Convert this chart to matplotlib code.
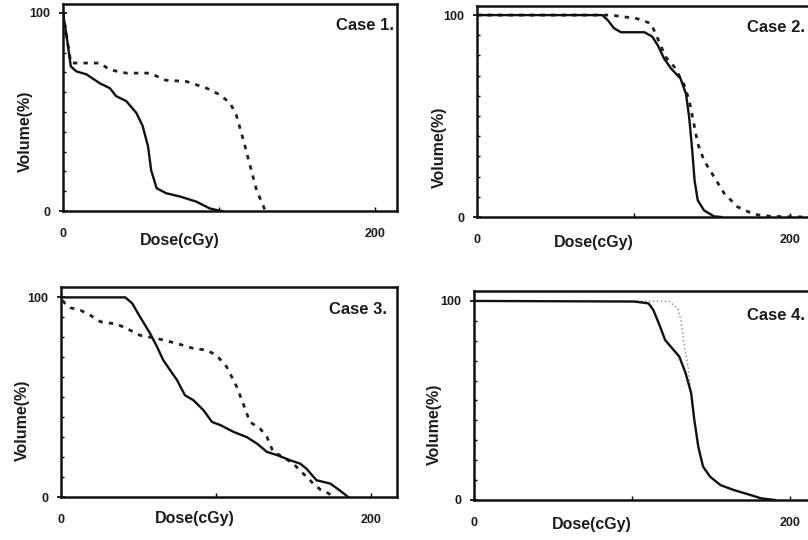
import matplotlib
matplotlib.use("Agg")
import matplotlib.pyplot as plt
from matplotlib.ticker import MultipleLocator

plt.rcParams['font.family'] = ['Liberation Sans', 'DejaVu Sans']

# ---------------- data (dose in cGy, volume in %) ----------------
case_titles = ["Case 1.", "Case 2.", "Case 3.", "Case 4."]

c1_solid_dose = [0, 2, 5, 8.5, 15, 23.5, 30, 34, 40.5, 47, 51, 54.5, 56.5, 60, 66, 75, 85.5, 94, 100, 102]
c1_solid_vol = [100, 90, 73, 70.5, 69, 64.5, 62, 58, 55.5, 49.5, 43, 32.5, 20.5, 11.5, 9, 7.3, 4.7, 1.3, 0.2, 0]
c1_dash_dose = [0, 2, 5, 23.5, 30, 40.5, 55.5, 66, 79, 92, 100.5, 107, 111, 115.5, 119.5, 124, 129, 130]
c1_dash_vol = [100, 90, 74.7, 74.7, 71.3, 69.6, 69.6, 66, 65.4, 62, 58.7, 54.5, 48.6, 36, 24, 10.6, 1.3, 0]

c2_solid_dose = [0, 80, 83.5, 87.5, 92, 107, 112, 115.5, 119.5, 124, 130, 133.5, 135.5, 137.5, 139, 141, 145, 151.5, 156]
c2_solid_vol = [100, 100, 97.5, 93.5, 91.5, 91.5, 89.3, 85, 78.5, 73.5, 68.6, 61, 49.6, 33, 18, 8.3, 3.3, 0.3, 0]
c2_dash_dose = [0, 85.5, 102, 111, 114, 120.5, 126, 132, 135.5, 138.5, 141, 145, 151.5, 158, 166.5, 177, 188, 209]
c2_dash_vol = [100, 100, 98.3, 95.9, 91, 79.3, 74.4, 66, 58, 46.3, 36.4, 28, 19.8, 11.6, 5, 1.3, 0.3, 0]

c3_solid_dose = [0, 41.5, 46, 51, 57.5, 62, 66, 70.5, 75, 80, 85.5, 92, 97.5, 103, 111.5, 120, 126.5, 133,
                 139.5, 148, 154.5, 158.5, 165, 174, 180, 185.5]
c3_solid_vol = [100, 100, 97, 90.3, 82, 75.3, 68.6, 63.5, 58.5, 51, 48.5, 43.5, 37.6, 36, 32.6, 30, 26.8, 22.6,
                21, 18.4, 16.7, 14.2, 8.4, 6.7, 3.3, 0]
c3_dash_dose = [1, 3, 6, 12.5, 19, 25.5, 36, 42.5, 51, 62, 75, 85.5, 94, 100.5, 107, 113.5, 118, 122, 128.5,
                133, 137, 143.5, 150, 156.5, 163, 167.5, 171.5, 176]
c3_dash_vol = [98.5, 96.5, 94.8, 93.6, 91, 87.8, 86.6, 84.4, 81, 79.4, 76.9, 74.4, 73.6, 71, 65.2, 55.2, 46,
               37.6, 34.3, 30.1, 22.6, 20, 16.7, 11.7, 6.7, 3.7, 2.5, 0]

c4_solid_dose = [0, 101.5, 110.5, 113.5, 117, 121, 125.5, 130, 134, 137.5, 139.5, 142, 145, 149.5, 156, 164.5,
                 173, 182, 190.5]
c4_solid_vol = [100, 99.7, 98.8, 95.5, 88.8, 80.4, 76.2, 72, 63.7, 53.6, 40.2, 26.8, 16.8, 11.7, 7.5, 5, 3, 0.8, 0]
c4_dot_dose = [0, 110.5, 123.5, 129, 131, 133, 135.5, 137.5, 139.5, 142, 145, 149.5, 156, 164.5, 173, 182, 190.5]
c4_dot_vol = [100, 100, 99.7, 96.3, 90.5, 78.7, 67, 53.6, 40.2, 26.8, 16.8, 11.7, 7.5, 5, 3, 0.8, 0]

x_tick_values = [0, 100, 200]
x_tick_labels = ["0", "", "200"]
y_tick_values = [0, 100]
y_tick_labels = ["0", "100"]

# ---------------- layout ----------------
W, H = 808, 540
fig = plt.figure(figsize=(W / 100, H / 100), dpi=100)
fig.patch.set_facecolor("white")

def px_axes(left, right, top, bottom):
    return fig.add_axes([left / W, 1 - bottom / H, (right - left) / W, (bottom - top) / H])

TXT = "#1c1c1c"

# (left, right, top, bottom), xmax, ymax
panels = [
    ((63, 397, 4, 211), 214, 104.5),
    ((477, 812, 6, 217), 214, 104.5),
    ((61, 397, 287, 497), 217, 105.2),
    ((474, 812, 291, 500), 214, 105.0),
]
# label positions in pixels: volume label (x, y), dose label (x, y), case label (x, y)
label_pos = [
    ((25, 131), (180, 240), (365, 25)),
    ((439, 147), (594, 242), (776, 28)),
    ((22, 420), (195, 518), (358, 310)),
    ((434, 424), (592, 525), (776, 315)),
]

series = [
    [(c1_solid_dose, c1_solid_vol, "solid"), (c1_dash_dose, c1_dash_vol, "dash")],
    [(c2_dash_dose, c2_dash_vol, "dash"), (c2_solid_dose, c2_solid_vol, "solid")],
    [(c3_dash_dose, c3_dash_vol, "dash"), (c3_solid_dose, c3_solid_vol, "solid")],
    [(c4_dot_dose, c4_dot_vol, "dot"), (c4_solid_dose, c4_solid_vol, "solid")],
]

for i, ((box, xmax, ymax), lp, ser) in enumerate(zip(panels, label_pos, series)):
    ax = px_axes(*box)
    for xs, ys, kind in ser:
        if kind == "solid":
            ax.plot(xs, ys, color="#111111", lw=1.7, solid_joinstyle="round", zorder=3)
        elif kind == "dash":
            ax.plot(xs, ys, color="#222222", lw=2.0, linestyle=(0, (1.6, 2.2)), zorder=2)
        else:
            ax.plot(xs, ys, color="#9a9a9a", lw=1.1, linestyle=(0, (1.0, 1.6)), zorder=2)
    ax.set_xlim(0, xmax)
    ax.set_ylim(0, ymax)
    for s in ax.spines.values():
        s.set_linewidth(1.8)
        s.set_color("#111111")
    ax.set_xticks(x_tick_values)
    ax.set_xticklabels(x_tick_labels)
    ax.set_yticks(y_tick_values)
    ax.set_yticklabels(y_tick_labels)
    ax.yaxis.set_minor_locator(MultipleLocator(10))
    ax.tick_params(axis="x", direction="in", length=3, width=1, pad=12, labelsize=9, labelcolor=TXT)
    ax.tick_params(axis="y", which="major", direction="inout", length=6, width=1.2, pad=6,
                   labelsize=9, labelcolor=TXT)
    ax.tick_params(axis="y", which="minor", direction="in", length=2.5, width=1)
    for lab in ax.get_xticklabels() + ax.get_yticklabels():
        lab.set_fontweight("bold")

    (vx, vy), (dx, dy), (cx, cy) = lp
    fig.text(vx / W, 1 - vy / H, "Volume(%)", rotation=90, ha="center", va="center",
             fontsize=11.5, fontweight="bold", color=TXT)
    fig.text(dx / W, 1 - dy / H, "Dose(cGy)", ha="center", va="center",
             fontsize=11.5, fontweight="bold", color=TXT)
    fig.text(cx / W, 1 - cy / H, case_titles[i], ha="center", va="center",
             fontsize=12, fontweight="bold", color=TXT)

fig.savefig("out.png", dpi=100, facecolor="white")
